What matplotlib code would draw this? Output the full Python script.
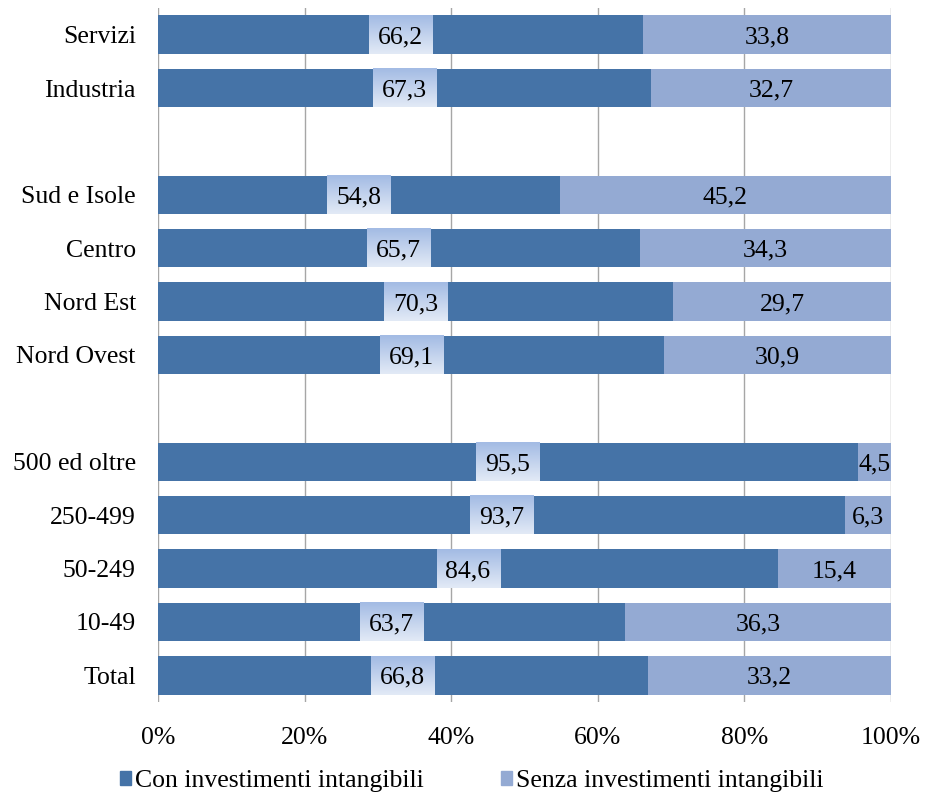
import matplotlib.pyplot as plt
import numpy as np
from matplotlib.colors import LinearSegmentedColormap

plt.rcParams['font.family'] = ['Liberation Serif', 'DejaVu Serif']

categorie = ["Servizi", "Industria", "", "Sud e Isole", "Centro", "Nord Est", "Nord Ovest",
             "", "500 ed oltre", "250-499", "50-249", "10-49", "Total"]
con = [66.2, 67.3, None, 54.8, 65.7, 70.3, 69.1, None, 95.5, 93.7, 84.6, 63.7, 66.8]
senza = [33.8, 32.7, None, 45.2, 34.3, 29.7, 30.9, None, 4.5, 6.3, 15.4, 36.3, 33.2]
tick_pct = [0, 20, 40, 60, 80, 100]

col_con = "#4573a7"
col_senza = "#94aad3"
fs = 18.5

fig = plt.figure(figsize=(9.25, 8), dpi=100)
ax = fig.add_axes([0.1708, 0.1225, 0.7924, 0.8675])

# gradiente per i riquadri delle etichette
grad_cmap = LinearSegmentedColormap.from_list("box", ["#a3bbe4", "#e2eaf6"])
grad = np.linspace(0, 1, 50).reshape(-1, 1)
bh = 0.72
box_w = 8.6

for i, (c, s) in enumerate(zip(con, senza)):
    if c is None:
        continue
    ax.barh(i, c, height=bh, color=col_con, zorder=2)
    ax.barh(i, s, left=c, height=bh, color=col_senza, zorder=2)
    ax.imshow(grad, cmap=grad_cmap, aspect="auto", zorder=3,
              extent=[c / 2 - box_w / 2, c / 2 + box_w / 2, i + bh / 2, i - bh / 2])
    ax.text(c / 2, i, f"{c:.1f}".replace(".", ","), ha="center", va="center_baseline",
            fontsize=fs, zorder=4)
    ax.text(c + s / 2, i, f"{s:.1f}".replace(".", ","), ha="center", va="center_baseline",
            fontsize=fs, zorder=4)

ax.set_xlim(0, 100)
ax.set_ylim(12.5, -0.5)
ax.set_yticks(range(len(categorie)))
ax.set_yticklabels(categorie, fontsize=fs)
ax.set_xticks(tick_pct)
ax.set_xticklabels([f"{t}%" for t in tick_pct], fontsize=fs)
ax.tick_params(length=0)
ax.tick_params(axis="y", pad=16)
ax.tick_params(axis="x", pad=18)
ax.xaxis.grid(True, color="#a6a6a6", linewidth=1, zorder=0)
ax.set_axisbelow(True)
for sp in ax.spines.values():
    sp.set_visible(False)

h1 = plt.Rectangle((0, 0), 1, 1, color=col_con)
h2 = plt.Rectangle((0, 0), 1, 1, color=col_senza)
fig.legend([h1, h2], ["Con investimenti intangibili", "Senza investimenti intangibili"],
           loc="center", bbox_to_anchor=(0.51, 0.024), ncol=2, frameon=False, fontsize=fs,
           handlelength=0.45, handleheight=0.45, handletextpad=0.15, columnspacing=3.0)

fig.savefig("out.png", dpi=100)
